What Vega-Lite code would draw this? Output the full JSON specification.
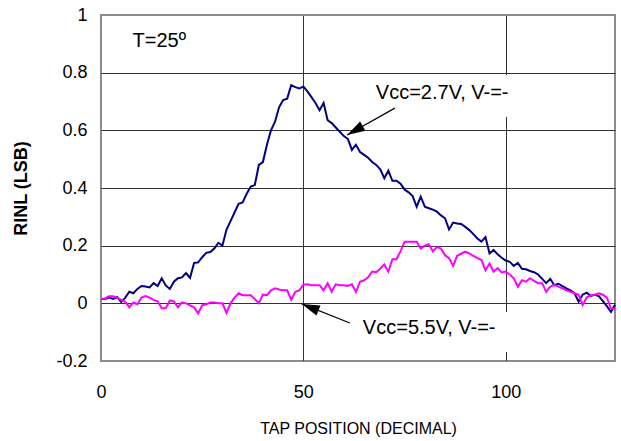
{
  "$schema": "https://vega.github.io/schema/vega-lite/v6.json",
  "width": 514,
  "height": 346,
  "autosize": "none",
  "padding": {"left": 101, "top": 15, "right": 6, "bottom": 80},
  "background": "white",
  "config": {
    "font": "Liberation Sans",
    "view": {"stroke": "#8c8c8c", "strokeWidth": 2},
    "axis": {
      "domain": false,
      "ticks": false,
      "grid": true,
      "gridWidth": 1,
      "gridOpacity": 1,
      "labelColor": "#000000",
      "labelFont": "Liberation Sans",
      "labelFontSize": 18,
      "labelFlush": false,
      "titleColor": "#000000",
      "titleFont": "Liberation Sans"
    }
  },
  "datasets": {
    "rinl": [
      {"tap":0,"a":0.015,"b":0.015},{"tap":1,"a":0.015,"b":0.017},{"tap":2,"a":0.02,"b":0.025},{"tap":3,"a":0.015,"b":0.025},
      {"tap":4,"a":0.022,"b":0.02},{"tap":5,"a":0.005,"b":0.012},{"tap":6,"a":0.02,"b":0.005},{"tap":7,"a":0.04,"b":-0.014},
      {"tap":8,"a":0.035,"b":0.003},{"tap":9,"a":0.05,"b":-0.003},{"tap":10,"a":0.06,"b":0.02},{"tap":11,"a":0.058,"b":0.025},
      {"tap":12,"a":0.055,"b":0.02},{"tap":13,"a":0.07,"b":0.012},{"tap":14,"a":0.06,"b":0.007},{"tap":15,"a":0.087,"b":-0.017},
      {"tap":16,"a":0.062,"b":-0.017},{"tap":17,"a":0.05,"b":0.01},{"tap":18,"a":0.075,"b":0.007},{"tap":19,"a":0.087,"b":-0.014},
      {"tap":20,"a":0.09,"b":0.003},{"tap":21,"a":0.105,"b":0.0},{"tap":22,"a":0.088,"b":-0.007},{"tap":23,"a":0.14,"b":-0.014},
      {"tap":24,"a":0.142,"b":-0.035},{"tap":25,"a":0.16,"b":-0.007},{"tap":26,"a":0.175,"b":-0.003},{"tap":27,"a":0.178,"b":0.003},
      {"tap":28,"a":0.19,"b":0.003},{"tap":29,"a":0.21,"b":0.0},{"tap":30,"a":0.2,"b":0.0},{"tap":31,"a":0.255,"b":-0.033},
      {"tap":32,"a":0.285,"b":0.0},{"tap":33,"a":0.315,"b":0.02},{"tap":34,"a":0.345,"b":0.035},{"tap":35,"a":0.35,"b":0.028},
      {"tap":36,"a":0.38,"b":0.028},{"tap":37,"a":0.405,"b":0.028},{"tap":38,"a":0.41,"b":0.015},{"tap":39,"a":0.48,"b":0.0},
      {"tap":40,"a":0.49,"b":0.03},{"tap":41,"a":0.55,"b":0.028},{"tap":42,"a":0.6,"b":0.045},{"tap":43,"a":0.63,"b":0.052},
      {"tap":44,"a":0.68,"b":0.048},{"tap":45,"a":0.705,"b":0.045},{"tap":46,"a":0.71,"b":0.045},{"tap":47,"a":0.757,"b":0.012},
      {"tap":48,"a":0.75,"b":0.04},{"tap":49,"a":0.745,"b":0.045},{"tap":50,"a":0.752,"b":0.065},{"tap":51,"a":0.735,"b":0.066},
      {"tap":52,"a":0.715,"b":0.063},{"tap":53,"a":0.695,"b":0.063},{"tap":54,"a":0.67,"b":0.063},{"tap":55,"a":0.695,"b":0.045},
      {"tap":56,"a":0.635,"b":0.07},{"tap":57,"a":0.625,"b":0.04},{"tap":58,"a":0.61,"b":0.066},{"tap":59,"a":0.595,"b":0.063},
      {"tap":60,"a":0.58,"b":0.063},{"tap":61,"a":0.57,"b":0.06},{"tap":62,"a":0.532,"b":0.066},{"tap":63,"a":0.55,"b":0.04},
      {"tap":64,"a":0.525,"b":0.075},{"tap":65,"a":0.515,"b":0.08},{"tap":66,"a":0.505,"b":0.09},{"tap":67,"a":0.49,"b":0.11},
      {"tap":68,"a":0.48,"b":0.108},{"tap":69,"a":0.465,"b":0.12},{"tap":70,"a":0.434,"b":0.135},{"tap":71,"a":0.46,"b":0.11},
      {"tap":72,"a":0.425,"b":0.153},{"tap":73,"a":0.425,"b":0.153},{"tap":74,"a":0.415,"b":0.18},{"tap":75,"a":0.395,"b":0.214},
      {"tap":76,"a":0.385,"b":0.214},{"tap":77,"a":0.372,"b":0.214},{"tap":78,"a":0.335,"b":0.214},{"tap":79,"a":0.37,"b":0.19},
      {"tap":80,"a":0.335,"b":0.2},{"tap":81,"a":0.33,"b":0.205},{"tap":82,"a":0.325,"b":0.18},{"tap":83,"a":0.318,"b":0.195},
      {"tap":84,"a":0.305,"b":0.19},{"tap":85,"a":0.295,"b":0.167},{"tap":86,"a":0.256,"b":0.157},{"tap":87,"a":0.28,"b":0.13},
      {"tap":88,"a":0.277,"b":0.165},{"tap":89,"a":0.275,"b":0.172},{"tap":90,"a":0.265,"b":0.179},{"tap":91,"a":0.254,"b":0.173},
      {"tap":92,"a":0.24,"b":0.165},{"tap":93,"a":0.225,"b":0.157},{"tap":94,"a":0.214,"b":0.15},{"tap":95,"a":0.23,"b":0.115},
      {"tap":96,"a":0.173,"b":0.138},{"tap":97,"a":0.185,"b":0.11},{"tap":98,"a":0.17,"b":0.122},{"tap":99,"a":0.158,"b":0.107},
      {"tap":100,"a":0.148,"b":0.11},{"tap":101,"a":0.144,"b":0.1},{"tap":102,"a":0.13,"b":0.087},{"tap":103,"a":0.14,"b":0.058},
      {"tap":104,"a":0.12,"b":0.08},{"tap":105,"a":0.118,"b":0.075},{"tap":106,"a":0.112,"b":0.087},{"tap":107,"a":0.108,"b":0.078},
      {"tap":108,"a":0.1,"b":0.07},{"tap":109,"a":0.085,"b":0.07},{"tap":110,"a":0.07,"b":0.04},{"tap":111,"a":0.085,"b":0.058},
      {"tap":112,"a":0.063,"b":0.063},{"tap":113,"a":0.068,"b":0.058},{"tap":114,"a":0.06,"b":0.052},{"tap":115,"a":0.052,"b":0.045},
      {"tap":116,"a":0.045,"b":0.04},{"tap":117,"a":0.035,"b":0.035},{"tap":118,"a":0.006,"b":0.03},{"tap":119,"a":0.03,"b":-0.006},
      {"tap":120,"a":0.037,"b":0.02},{"tap":121,"a":0.026,"b":0.028},{"tap":122,"a":0.03,"b":0.03},{"tap":123,"a":0.025,"b":0.035},
      {"tap":124,"a":0.008,"b":0.03},{"tap":125,"a":-0.01,"b":0.02},{"tap":126,"a":-0.03,"b":-0.017},{"tap":127,"a":-0.005,"b":-0.02}
    ],
    "boxes": [
      {"tap":66.5,"tap2":108.5,"v":0.792,"v2":0.646},
      {"tap":64,"tap2":108.5,"v":-0.03,"v2":-0.169}
    ],
    "notes": [
      {"tap":7.8,"v":0.89,"label":"T=25º"},
      {"tap":67.9,"v":0.709,"label":"Vcc=2.7V, V-=-"},
      {"tap":64.7,"v":-0.106,"label":"Vcc=5.5V, V-=-"}
    ],
    "arrows": [
      {"id":"a","tap":72.6,"v":0.677,"tap2":60.8,"v2":0.584},
      {"id":"b","tap":61.5,"v":-0.068,"tap2":49.6,"v2":-0.002}
    ]
  },
  "encoding": {
    "x": {
      "field": "tap",
      "type": "quantitative",
      "title": "TAP POSITION (DECIMAL)",
      "scale": {"domain": [0, 127], "nice": false, "zero": false},
      "axis": {
        "values": [0, 50, 100],
        "labelPadding": 22,
        "titleFontSize": 16,
        "titleFontWeight": "normal",
        "titlePadding": 19,
        "gridColor": {"condition": {"test": "datum.value < 1", "value": "#8c8c8c"}, "value": "#333333"}
      }
    },
    "y": {
      "field": "v",
      "type": "quantitative",
      "title": "RINL (LSB)",
      "scale": {"domain": [-0.2, 1], "nice": false, "zero": false},
      "axis": {
        "values": [-0.2, 0, 0.2, 0.4, 0.6, 0.8, 1],
        "labelExpr": "datum.value < 0 ? '-' + format(-datum.value, '.1~f') : format(datum.value, '.1~f')",
        "labelPadding": 14,
        "titleFontSize": 18,
        "titleFontWeight": "bold",
        "titlePadding": 25,
        "gridColor": {"condition": {"test": "datum.value < -0.1 || datum.value > 0.9", "value": "#8c8c8c"}, "value": "#333333"}
      }
    }
  },
  "layer": [
    {
      "data": {"name": "boxes"},
      "mark": {"type": "rect", "fill": "white", "strokeWidth": 0},
      "encoding": {"x2": {"field": "tap2"}, "y2": {"field": "v2"}}
    },
    {
      "data": {"name": "rinl"},
      "transform": [{"fold": ["a", "b"], "as": ["s", "v"]}],
      "mark": {"type": "line", "strokeWidth": 2, "interpolate": "linear"},
      "encoding": {
        "color": {"field": "s", "type": "nominal", "scale": {"domain": ["a", "b"], "range": ["#000080", "#ff00ff"]}, "legend": null}
      }
    },
    {
      "data": {"name": "notes"},
      "mark": {"type": "text", "align": "left", "baseline": "alphabetic", "fontSize": 20, "font": "Liberation Sans", "color": "#000000"},
      "encoding": {"text": {"field": "label"}}
    },
    {
      "data": {"name": "arrows"},
      "mark": {"type": "rule", "color": "#000000", "strokeWidth": 1.2},
      "encoding": {"x2": {"field": "tap2"}, "y2": {"field": "v2"}}
    },
    {
      "data": {"name": "arrows"},
      "transform": [{"filter": "datum.id == 'a'"}],
      "mark": {"type": "point", "filled": true, "color": "#000000", "opacity": 1, "shape": "M0,0L-0.6,2L0.6,2Z", "size": 324, "angle": 240.6},
      "encoding": {
        "x": {"field": "tap2", "type": "quantitative", "title": "TAP POSITION (DECIMAL)"},
        "y": {"field": "v2", "type": "quantitative", "title": "RINL (LSB)"}
      }
    },
    {
      "data": {"name": "arrows"},
      "transform": [{"filter": "datum.id == 'b'"}],
      "mark": {"type": "point", "filled": true, "color": "#000000", "opacity": 1, "shape": "M0,0L-0.6,2L0.6,2Z", "size": 324, "angle": 291.6},
      "encoding": {
        "x": {"field": "tap2", "type": "quantitative", "title": "TAP POSITION (DECIMAL)"},
        "y": {"field": "v2", "type": "quantitative", "title": "RINL (LSB)"}
      }
    }
  ]
}
